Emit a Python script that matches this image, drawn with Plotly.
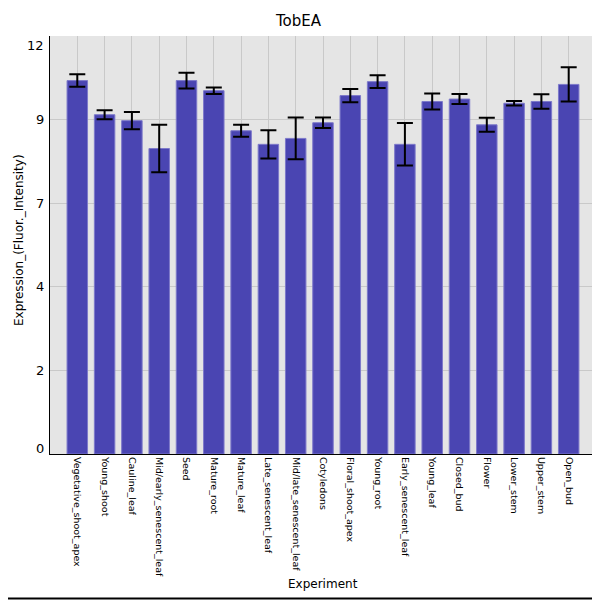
import plotly.graph_objects as go

experimentos = ["Vegetative_shoot_apex", "Young_shoot", "Cauline_leaf", "Mid/early_senescent_leaf",
                "Seed", "Mature_root", "Mature_leaf", "Late_senescent_leaf", "Mid/late_senescent_leaf",
                "Cotyledons", "Floral_shoot_apex", "Young_root", "Early_senescent_leaf", "Young_leaf",
                "Closed_bud", "Flower", "Lower_stem", "Upper_stem", "Open_bud"]
expressao = [10.72, 9.74, 9.57, 8.77, 10.72, 10.43, 9.28, 8.89, 9.06,
             9.51, 10.29, 10.69, 8.89, 10.12, 10.19, 9.45, 10.07, 10.12, 10.61]
desvio = [0.18, 0.13, 0.245, 0.68, 0.225, 0.095, 0.17, 0.405, 0.6,
          0.15, 0.19, 0.18, 0.61, 0.23, 0.145, 0.2, 0.065, 0.21, 0.49]
y_ticks = [0, 2.4, 4.8, 7.2, 9.6, 12]
y_labels = ["0", "2", "4", "7", "9", "12"]

fonte = "DejaVu Sans"
# a pagina tem 8px de margem no body, entao a figura comeca em (8, 8)
W, H = 592, 592
L, T = 42, 28
pw, ph = 546, 418
R, B = W - L - pw, H - T - ph

fig = go.Figure()
fig.add_trace(go.Bar(
    x=list(range(len(experimentos))), y=expressao, width=0.75,
    marker=dict(color="#4A45B2", line=dict(color="#7D79CA", width=1)),
    error_y=dict(type="data", array=desvio, visible=True, color="black", thickness=2, width=8),
))

fig.update_layout(
    width=W, height=H, autosize=False,
    margin=dict(l=L, r=R, t=T, b=B),
    paper_bgcolor="white", plot_bgcolor="#E5E5E5",
    font=dict(family=fonte, size=12, color="black"),
    showlegend=False,
    title=dict(text="TobEA", x=290.5 / W, y=1 - 13 / H, xref="container", yref="container",
               xanchor="center", yanchor="middle", font=dict(size=15, family=fonte)),
)
fig.update_xaxes(range=[-1, len(experimentos)], tickvals=list(range(len(experimentos))),
                 ticktext=experimentos, tickangle=90, tickfont=dict(size=9.5, family=fonte),
                 showgrid=True, gridcolor="#C9C9C9", gridwidth=1,
                 showline=True, linecolor="black", linewidth=1, ticks="", zeroline=False)
fig.update_yaxes(range=[0, 12], tickvals=y_ticks, showticklabels=False,
                 showgrid=True, gridcolor="#C9C9C9", gridwidth=1,
                 showline=True, linecolor="black", linewidth=1, ticks="", zeroline=False)

# rotulos do eixo y (extremos deslocados para dentro)
for v, t in zip(y_ticks, y_labels):
    desloc = 6 if v == y_ticks[0] else (-9 if v == y_ticks[-1] else 0)
    fig.add_annotation(x=0, xref="paper", y=v, yref="y", text=t, showarrow=False,
                       xanchor="right", yanchor="middle", xshift=-4, yshift=desloc,
                       font=dict(size=13, family=fonte))

fig.add_annotation(x=(11 - L) / pw, xref="paper", y=0.5 + 5 / ph, yref="paper",
                   text="Expression_(Fluor._Intensity)", textangle=-90, showarrow=False,
                   xanchor="center", yanchor="middle", font=dict(size=12, family=fonte))
fig.add_annotation(x=0.5, xref="paper", y=-130 / ph, yref="paper", text="Experiment",
                   showarrow=False, xanchor="center", yanchor="middle", font=dict(size=12, family=fonte))

# moldura: so as bordas direita e inferior cabem na janela
xb = (W - 2.5 - L) / pw
yb = -(B - 1.5) / ph
fig.add_shape(type="line", xref="paper", yref="paper", x0=xb, x1=xb, y0=yb, y1=(H - B) / ph,
              line=dict(color="black", width=2), layer="above")
fig.add_shape(type="line", xref="paper", yref="paper", x0=-L / pw, x1=xb, y0=yb, y1=yb,
              line=dict(color="black", width=2), layer="above")

fig.write_html("out.html")
